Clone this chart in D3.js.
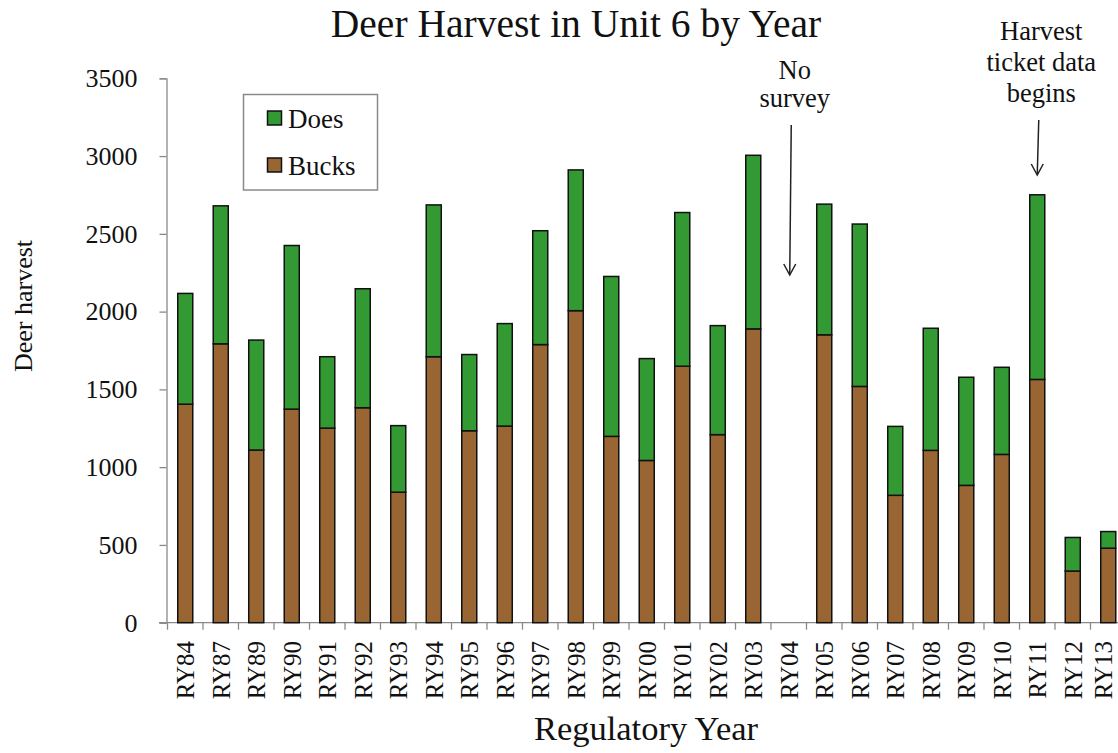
<!DOCTYPE html>
<html>
<head>
<meta charset="utf-8">
<script src="https://cdn.jsdelivr.net/npm/d3@7"></script>
<style>
  html, body { margin: 0; padding: 0; background: #fff; }
  svg { display: block; }
  svg text { font-family: "Liberation Serif", "Times New Roman", serif; }
</style>
</head>
<body>
<svg id="chart" width="1118" height="753"></svg>
<script>
const categories = ["RY84","RY87","RY89","RY90","RY91","RY92","RY93","RY94","RY95","RY96","RY97","RY98","RY99","RY00","RY01","RY02","RY03","RY04","RY05","RY06","RY07","RY08","RY09","RY10","RY11","RY12","RY13"];
const bucks = [1405,1793,1110,1373,1251,1382,839,1710,1234,1264,1788,2006,1198,1043,1649,1209,1889,0,1851,1519,819,1108,883,1082,1564,332,479];
const does  = [712,887,707,1052,459,765,428,976,490,659,732,905,1028,655,988,701,1116,0,840,1044,443,785,695,560,1187,216,107];
const yTicks = [0,500,1000,1500,2000,2500,3000,3500];
const seriesNames = ["Bucks","Does"];
const seriesColors = {Bucks: "#996633", Does: "#339933"};
const FONT = "Liberation Serif, Times New Roman, serif";

const svg = d3.select("#chart");
const axisX0 = 166.5, yZero = 622.7, yTop = 78.3;

const x = d3.scaleBand().domain(categories).range([axisX0 + 1, axisX0 + 1 + categories.length * 35.5])
  .paddingInner(0.577).paddingOuter(0.2885);
const y = d3.scaleLinear().domain([0, 3500]).range([yZero, yTop]);

const rows = categories.map((c, i) => ({cat: c, Bucks: bucks[i], Does: does[i]}));
const stacked = d3.stack().keys(seriesNames)(rows);

// Title
svg.append("text").attr("x", 576).attr("y", 37).attr("text-anchor", "middle")
  .attr("font-family", FONT).attr("font-size", 39.5).attr("fill", "#111").text("Deer Harvest in Unit 6 by Year");

// Y axis
const yAxis = svg.append("g").attr("transform", `translate(${axisX0},0)`)
  .call(d3.axisLeft(y).tickValues(yTicks).tickFormat(d3.format("d")).tickSize(7).tickPadding(22));
yAxis.attr("font-family", FONT);
yAxis.select(".domain").attr("stroke", "#8a8a8a").attr("stroke-width", 1.3);
yAxis.selectAll(".tick line").attr("stroke", "#8a8a8a").attr("stroke-width", 1.3);
yAxis.selectAll(".tick text").attr("font-size", 26).attr("fill", "#111").attr("font-family", FONT);

// X axis
const bounds = categories.map(c => x(c) - x.step() * x.paddingInner() / 2);
bounds.push(bounds[bounds.length - 1] + x.step());
const xAxisG = svg.append("g");
xAxisG.append("line").attr("x1", 159).attr("x2", 1118).attr("y1", yZero).attr("y2", yZero)
  .attr("stroke", "#8a8a8a").attr("stroke-width", 1.3);
xAxisG.selectAll("line.tk").data(bounds).join("line").attr("class", "tk")
  .attr("x1", d => d).attr("x2", d => d).attr("y1", yZero).attr("y2", yZero + 7)
  .attr("stroke", "#8a8a8a").attr("stroke-width", 1.3);
xAxisG.selectAll("text").data(categories).join("text")
  .attr("transform", d => `translate(${Math.min(x(d) + x.bandwidth() / 2, 1103)},641) rotate(-90)`)
  .attr("text-anchor", "end").attr("dy", "0.35em").attr("font-family", FONT)
  .attr("font-size", 25).attr("fill", "#111").text(d => d);

// Bars
svg.append("g").selectAll("g").data(stacked).join("g")
  .attr("fill", d => seriesColors[d.key])
  .selectAll("rect").data(d => d.filter(p => p[1] - p[0] > 0)).join("rect")
  .attr("x", d => x(d.data.cat)).attr("width", x.bandwidth())
  .attr("y", d => y(d[1])).attr("height", d => y(d[0]) - y(d[1]))
  .attr("stroke", "#111").attr("stroke-width", 1.5);

// Axis titles
svg.append("text").attr("transform", "translate(32,306) rotate(-90)").attr("text-anchor", "middle")
  .attr("font-family", FONT).attr("font-size", 26).attr("fill", "#111").text("Deer harvest");
svg.append("text").attr("x", 646).attr("y", 740).attr("text-anchor", "middle")
  .attr("font-family", FONT).attr("font-size", 34.5).attr("fill", "#111").text("Regulatory Year");

// Legend
const lg = svg.append("g");
lg.append("rect").attr("x", 243.5).attr("y", 94.5).attr("width", 134).attr("height", 95.5)
  .attr("fill", "#fff").attr("stroke", "#8a8a8a").attr("stroke-width", 1.5);
const legendItems = ["Does", "Bucks"];
legendItems.forEach((k, i) => {
  lg.append("rect").attr("x", 267.5).attr("y", 111 + i * 47).attr("width", 14).attr("height", 14)
    .attr("fill", seriesColors[k]).attr("stroke", "#111").attr("stroke-width", 1.5);
  lg.append("text").attr("x", 288).attr("y", 128 + i * 47).attr("font-size", 27)
    .attr("font-family", FONT).attr("fill", "#111").text(k);
});

// Annotations
function arrow(cx, y1, y2) {
  svg.append("line").attr("x1", cx + 1.5).attr("x2", cx).attr("y1", y1).attr("y2", y2)
    .attr("stroke", "#222").attr("stroke-width", 1.5);
  svg.append("path").attr("d", `M${cx - 6},${y2 - 11} L${cx},${y2} L${cx + 6},${y2 - 11}`)
    .attr("fill", "none").attr("stroke", "#222").attr("stroke-width", 1.5);
}
const c04 = x("RY04") + x.bandwidth() / 2 + 1;
["No", "survey"].forEach((t, i) => {
  svg.append("text").attr("x", c04 + 5).attr("y", 79 + i * 28).attr("text-anchor", "middle")
    .attr("font-family", FONT).attr("font-size", 26.5).attr("fill", "#111").text(t);
});
arrow(c04, 125, 275);
const c11 = x("RY11") + x.bandwidth() / 2;
["Harvest", "ticket data", "begins"].forEach((t, i) => {
  svg.append("text").attr("x", c11 + 4).attr("y", 40 + i * 31).attr("text-anchor", "middle")
    .attr("font-family", FONT).attr("font-size", 26.5).attr("fill", "#111").text(t);
});
arrow(c11, 120, 175);
</script>
</body>
</html>
